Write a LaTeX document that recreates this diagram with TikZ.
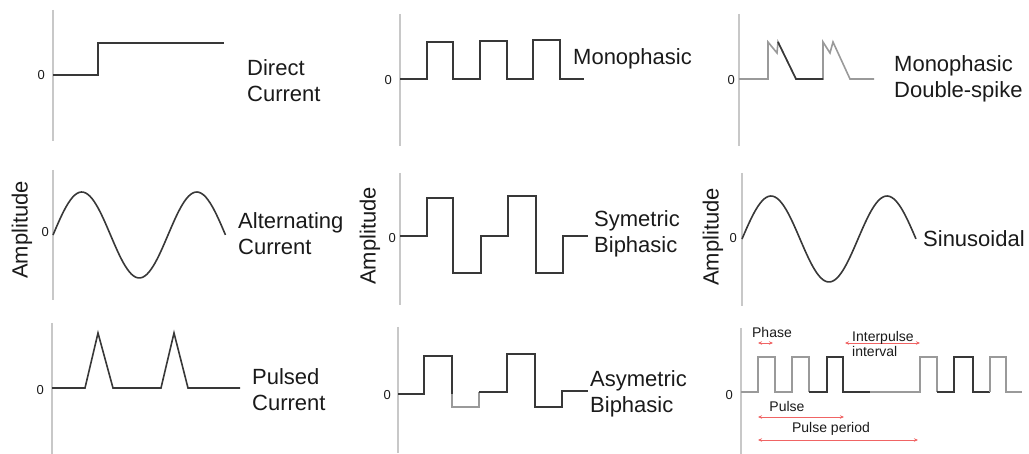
\documentclass[tikz,border=0pt]{standalone}
\usepackage{fontspec}
\setmainfont{Liberation Sans}
\usetikzlibrary{arrows.meta}

\definecolor{wavegray}{HTML}{383838}
\definecolor{lightwave}{HTML}{9A9A9A}
\definecolor{axisgray}{HTML}{C8C8C8}
\definecolor{dimred}{HTML}{F06464}
\definecolor{inkblack}{HTML}{1A1A1A}

\begin{document}
\begin{tikzpicture}[x=1pt, y=-1pt, every node/.style={text=inkblack},
    wave/.style={wavegray, line width=1.6pt},
    faint/.style={lightwave, line width=1.6pt},
    axis/.style={axisgray, line width=1.3pt},
    zero/.style={font=\fontsize{13}{13}\selectfont, anchor=east, inner sep=0pt},
    title/.style={font=\fontsize{22}{26}\selectfont, align=left, anchor=west, inner sep=0pt},
    amp/.style={font=\fontsize{22}{22}\selectfont, rotate=90, inner sep=0pt},
    small/.style={font=\fontsize{14}{15}\selectfont, inner sep=0pt},
    dim/.style={dimred, line width=0.8pt, {Stealth[length=4pt,width=3.5pt]}-{Stealth[length=4pt,width=3.5pt]}}]
            % Fixed frame, one unit per pixel
            \path[use as bounding box] (0,0) rectangle (1029,454);

            % Axes and zero marks
            \foreach \ax/\ytop/\ybot/\zx/\zy/\nm in {53/10/141/45/75/a, 400/14/146/392/80/b, 739/14/146/735/80/c,
                53/170/300/49/232/d, 400/173/305/396/238/e, 742/173/306/737/238/f,
                52/323/454/44/390/g, 398/327/453/391/395/h, 741/328/454/733/395/i} {
                \draw[axis] (\ax,\ytop) -- (\ax,\ybot);
                \node[zero] (zero\nm) at (\zx,\zy) {0};
            }
            \node[amp] (ampd) at (22,230) {Amplitude};
            \node[amp] (ampe) at (370,236) {Amplitude};
            \node[amp] (ampf) at (713,237) {Amplitude};

            % Top row
            \draw[wave] (53,75) -- (98,75) -- (98,43) -- (224,43);
            \draw[wave] (400,79) -| (427,42) -| (453,79) -| (480,41) -| (507,79) -| (533,40) -| (560,79) -- (584,79);
            \draw[faint] (739,79) -- (768,79) -- (768,42) -- (777,53) -- (778,42) -- (796,79) -- (823,79)
                -- (823,42) -- (830,53) -- (833,42) -- (850,79) -- (874,79);
            \draw[wave] (778,42) -- (796,79) -- (823,79);
            \node[title] (dc) at (247,81) {Direct\\Current};
            \node[title] (mono) at (573,59) {Monophasic};
            \node[title] (dspike) at (894,79) {Monophasic\\Double-spike};

            % Middle row
            \draw[wave] plot[domain=0:1.5, samples=80, smooth] ({53+115*\x}, {235-43*sin(360*\x)});
            \draw[wave] (400,236) -| (427,198) -| (453,273) -| (481,236) -| (508,196) -| (536,273) -| (563,236) -- (588,236);
            \draw[wave] plot[domain=0:1.5, samples=80, smooth] ({742+116*\x}, {239-43*sin(360*\x)});
            \node[title] (ac) at (238,234) {Alternating\\Current};
            \node[title] (symbi) at (594,234) {Symetric\\Biphasic};
            \node[title] (sinus) at (923,239) {Sinusoidal};

            % Bottom row
            \draw[wave] (52,388) -- (85,388) -- (98,333) -- (113,388) -- (161,388) -- (174,333) -- (188,388) -- (240,388);
            \draw[wave] (398,394) -| (424,356) -| (452,394);
            \draw[faint] (452,394) -- (452,407) -| (479,392);
            \draw[wave] (479,392) -| (507,354) -| (535,407) -| (562,391) -- (588,391);
            \draw[faint] (741,392) -| (758,357) -| (775,392) -| (792,357) -| (809,392);
            \draw[wave] (809,392) -| (827,357) -| (843,392) -- (870,392);
            \draw[faint] (870,392) -| (920,357) -| (937,392);
            \draw[wave] (937,392) -| (954,357) -| (973,392) -- (990,392);
            \draw[faint] (990,392) -- (990,357) -| (1006,392) -- (1022,392);
            \node[title] (pulsed) at (252,390) {Pulsed\\Current};
            \node[title] (asymbi) at (590,394) {Asymetric\\Biphasic};

            % Pulse parameters
            \coordinate (ph1) at (758,343);
            \coordinate (ph2) at (773,343);
            \coordinate (ip1) at (845,343);
            \coordinate (ip2) at (920,343);
            \coordinate (pu1) at (758,417);
            \coordinate (pu2) at (844,417);
            \coordinate (pp1) at (758,440);
            \coordinate (pp2) at (918,440);
            \draw[dim] (ph1) -- (ph2);
            \draw[dim] (ip1) -- (ip2);
            \draw[dim] (pu1) -- (pu2);
            \draw[dim] (pp1) -- (pp2);
            \node[small] (phase) at (772,332) {Phase};
            \node[small, align=left, anchor=west] (ipi) at (852,344) {Interpulse\\interval};
            \node[small] (pulse) at (787,406) {Pulse};
            \node[small] (period) at (831,429) {Pulse period};
        \end{tikzpicture}
\end{document}
